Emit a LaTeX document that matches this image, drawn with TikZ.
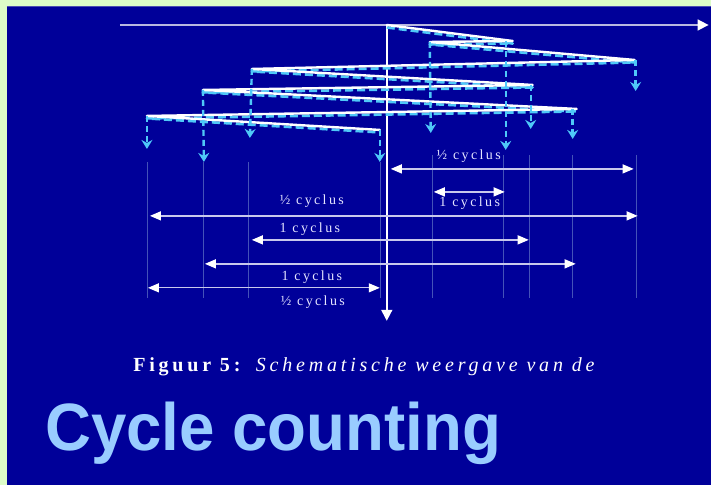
\documentclass[tikz,border=0pt]{standalone}
\usepackage{fontspec}
\setmainfont{Liberation Serif}
\newfontfamily\lblfont[LetterSpace=17]{Liberation Serif}
\newfontfamily\capfont[LetterSpace=19]{Liberation Serif}
\newfontfamily\titlefont{Liberation Sans}
\usetikzlibrary{arrows.meta}
\definecolor{bggreen}{HTML}{DDFCC8}
\definecolor{bgblue}{HTML}{000099}
\definecolor{sky}{HTML}{4FC8F8}
\definecolor{axisgrey}{HTML}{B8B8E0}
\definecolor{dimgrey}{HTML}{C8C8EC}
\definecolor{guide}{HTML}{4452B8}
\definecolor{titleblue}{HTML}{99CCFF}
\tikzset{
  sig/.style={draw=white, line width=2.4pt, line join=round, line cap=round},
  sigdash/.style={draw=sky, line width=2.6pt, dash pattern=on 8pt off 4pt, line join=round},
  drop/.style={draw=sky, line width=2.4pt, dash pattern=on 6pt off 4pt, -{Stealth[length=9pt,width=11pt,inset=3pt]}},
  guideline/.style={draw=guide, line width=0.5pt},
  axisline/.style={line width=1.6pt, -{Triangle[length=11pt,width=11pt]}},
  dimline/.style={draw=dimgrey, line width=1.3pt, {Triangle[length=11pt,width=9pt,fill=white,color=white]}-{Triangle[length=11pt,width=9pt,fill=white,color=white]}},
  lbl/.style={text=white!90!blue, font=\lblfont\fontsize{14}{16}\selectfont, inner sep=0pt, anchor=base},
}
\begin{document}
\begin{tikzpicture}[x=1pt,y=-1pt]
\fill[bggreen] (0,0) rectangle (711,485);
\fill[bgblue] (7,6) rectangle (711,485);
\draw[draw=blue!40!gray, line width=0.8pt] (7,6.4) -- (711,6.4);
\useasboundingbox (0,0) rectangle (711,485);

% guide lines
\foreach \gx/\gt in {147/162,203/162,248/162,380/162,432/155,504/155,530/155,573/155,637/155}
  \draw[guideline] (\gx,\gt) -- (\gx,298);

% axes
\coordinate (hA) at (120,25);
\coordinate (hB) at (709,25);
\coordinate (vA) at (387,25);
\coordinate (vB) at (387,321);
\draw[axisline, draw=axisgrey, -{Triangle[length=11pt,width=11pt,color=white]}] (hA) -- (hB);
\draw[axisline, draw=white] (vA) -- (vB);

% signal points
\coordinate (P0) at (387,25);
\coordinate (P1) at (513,41);
\coordinate (P2) at (430,42);
\coordinate (P3) at (635,60);
\coordinate (P4) at (252,69);
\coordinate (P5) at (533,85);
\coordinate (P6) at (203,90);
\coordinate (P7) at (577,109);
\coordinate (P8) at (147,116);
\coordinate (P9) at (380,130);

% dashed companion
\draw[sigdash] ([yshift=-2.5pt]P0) -- ([yshift=-2.5pt]P1) -- ([yshift=-2.5pt]P2) -- ([yshift=-2.5pt]P3)
  -- ([yshift=-2.5pt]P4) -- ([yshift=-2.5pt]P5) -- ([yshift=-2.5pt]P6) -- ([yshift=-2.5pt]P7)
  -- ([yshift=-2.5pt]P8) -- ([yshift=-2.5pt]P9);
% solid signal
\draw[sig] (P0) -- (P1) -- (P2) -- (P3) -- (P4) -- (P5) -- (P6) -- (P7) -- (P8) -- (P9);

% drop arrows
\coordinate (D1a) at (506,41);  \coordinate (D1b) at (506,150);
\coordinate (D5a) at (531,85);  \coordinate (D5b) at (531,129);
\coordinate (D7a) at (573,109); \coordinate (D7b) at (573,139);
\coordinate (D3a) at (636,60);  \coordinate (D3b) at (636,91);
\coordinate (D2b) at (431,133);
\coordinate (D4b) at (250,138);
\coordinate (D6b) at (204,162);
\coordinate (D8b) at (147,149);
\coordinate (D9b) at (380,162);
\draw[drop] (D1a) -- (D1b);
\draw[drop] (D5a) -- (D5b);
\draw[drop] (D7a) -- (D7b);
\draw[drop] (D3a) -- (D3b);
\draw[drop] (P2) -- (D2b);
\draw[drop] (P4) -- (D4b);
\draw[drop] (P6) -- (D6b);
\draw[drop] (P8) -- (D8b);
\draw[drop] (P9) -- (D9b);

% dimension arrows
\coordinate (a1) at (391,169); \coordinate (b1) at (634,169);
\coordinate (a2) at (434,192); \coordinate (b2) at (505,192);
\coordinate (a3) at (150,216); \coordinate (b3) at (638,216);
\coordinate (a4) at (252,240); \coordinate (b4) at (529,240);
\coordinate (a5) at (205,264); \coordinate (b5) at (576,264);
\coordinate (a6) at (148,288); \coordinate (b6) at (380,288);
\draw[dimline] (a1) -- (b1);
\draw[dimline] (a2) -- (b2);
\draw[dimline] (a3) -- (b3);
\draw[dimline] (a4) -- (b4);
\draw[dimline] (a5) -- (b5);
\draw[dimline] (a6) -- (b6);

\node[lbl] (l1) at (469,160) {½ cyclus};
\node[lbl] (l2) at (470,207) {1 cyclus};
\node[lbl] (l3) at (312,205) {½ cyclus};
\node[lbl] (l4) at (310,233) {1 cyclus};
\node[lbl] (l5) at (312,281) {1 cyclus};
\node[lbl] (l6) at (313,306) {½ cyclus};

% caption
\node[anchor=base, text=white, inner sep=0pt, font=\capfont\fontsize{20}{23}\selectfont] (cap) at (366,372)
  {\textbf{Figuur 5:} \textit{Schematische weergave van de}};
\node[anchor=base west, text=titleblue, inner sep=0pt, xscale=0.95, font=\titlefont\bfseries\fontsize{67}{70}\selectfont] (title) at (45,451)
  {Cycle counting};
\end{tikzpicture}
\end{document}
